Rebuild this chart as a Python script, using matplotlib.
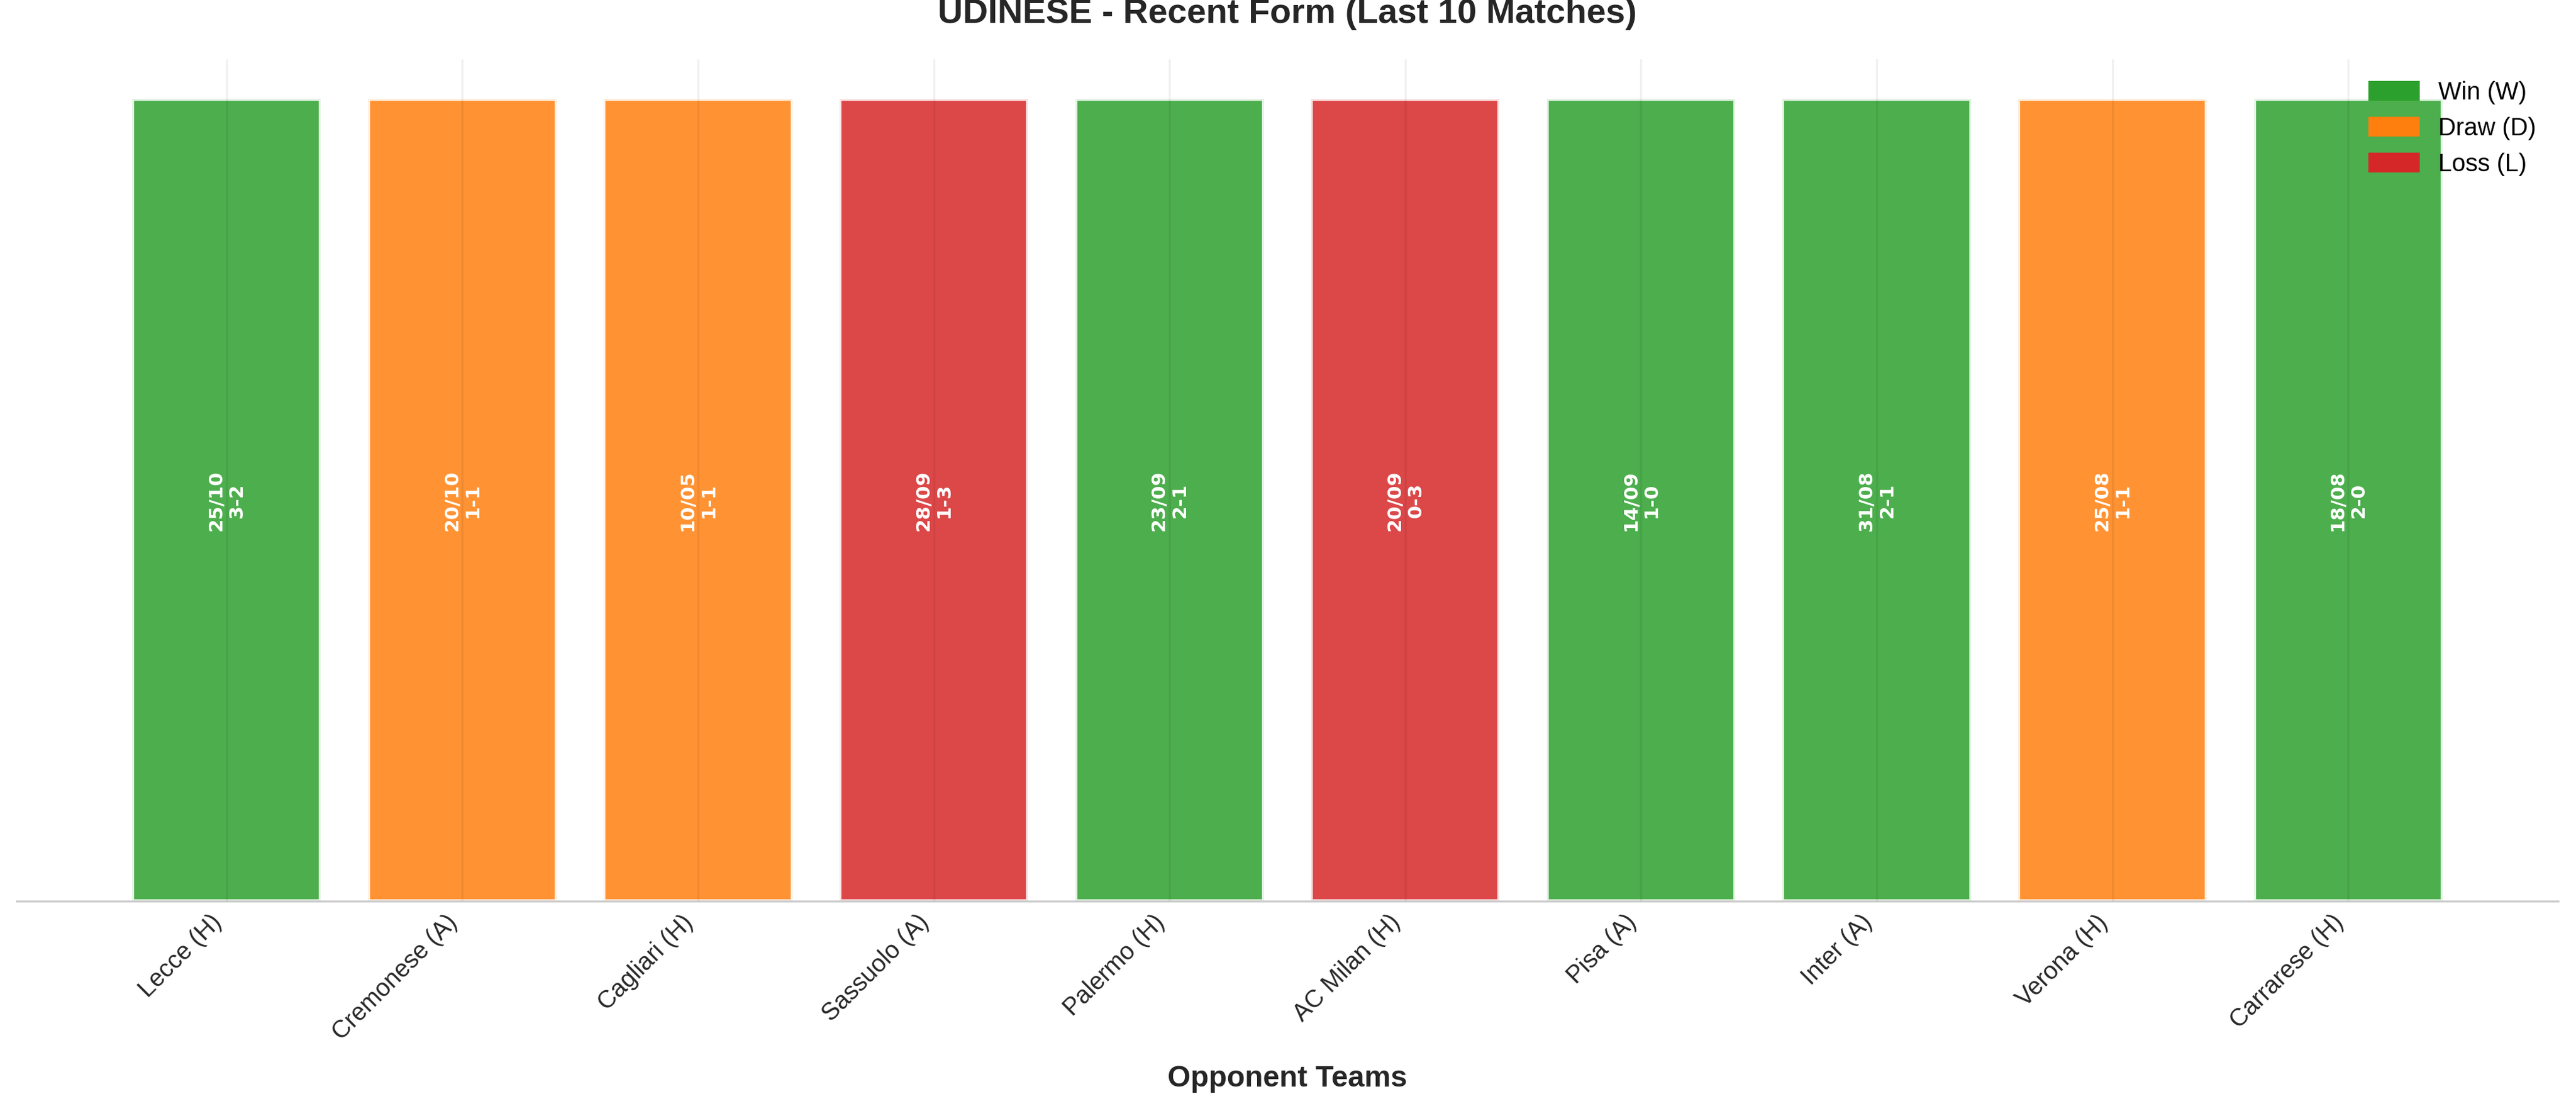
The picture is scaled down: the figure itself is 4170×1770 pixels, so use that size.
import matplotlib
matplotlib.use("Agg")
import matplotlib.pyplot as plt
from matplotlib.patches import Patch

opponents = ["Lecce (H)", "Cremonese (A)", "Cagliari (H)", "Sassuolo (A)", "Palermo (H)",
             "AC Milan (H)", "Pisa (A)", "Inter (A)", "Verona (H)", "Carrarese (H)"]
results = ["W", "D", "D", "L", "W", "L", "W", "W", "D", "W"]
dates = ["25/10", "20/10", "10/05", "28/09", "23/09", "20/09", "14/09", "31/08", "25/08", "18/08"]
scores = ["3-2", "1-1", "1-1", "1-3", "2-1", "0-3", "1-0", "2-1", "1-1", "2-0"]
heights = [1] * 10

colors = {"W": "#2ca02c", "D": "#ff7f0e", "L": "#d62728"}
plt.rcParams['font.family'] = ['Liberation Sans', 'DejaVu Sans']

fig = plt.figure(figsize=(13.9, 5.9), dpi=300)
ax = fig.add_axes([0.0065, 0.176, 0.9865, 0.77])
x = list(range(len(opponents)))
ax.bar(x, heights, width=0.8, color=[colors[r] for r in results], alpha=0.85,
       edgecolor="white", linewidth=1.5, zorder=2)
for xi in x:
    ax.axvline(xi, color="#000000", alpha=0.06, lw=0.8, zorder=3)
for xi, d, s in zip(x, dates, scores):
    ax.text(xi, 0.5, f"{d}\n{s}", rotation=90, ha="center", va="center", color="white",
            fontsize=7.5, fontweight="bold", family="DejaVu Sans", zorder=4)
ax.set_xticks(x)
ax.set_xticklabels(opponents, rotation=45, ha="right", fontsize=9.5, color="#262626")
ax.set_yticks([])
ax.tick_params(axis="x", length=0)
for sp in ["top", "right", "left"]:
    ax.spines[sp].set_visible(False)
ax.spines["bottom"].set_color("#cccccc")
ax.set_xlabel("Opponent Teams", fontsize=11.5, fontweight="bold", color="#262626", labelpad=8)
ax.set_title("UDINESE - Recent Form (Last 10 Matches)", fontsize=13.5, fontweight="bold",
             color="#262626", pad=14)
handles = [Patch(color=colors["W"], label="Win (W)"), Patch(color=colors["D"], label="Draw (D)"),
           Patch(color=colors["L"], label="Loss (L)")]
ax.legend(handles=handles, loc="upper right", frameon=False, fontsize=9.5)
fig.savefig("out.png", dpi=300)
